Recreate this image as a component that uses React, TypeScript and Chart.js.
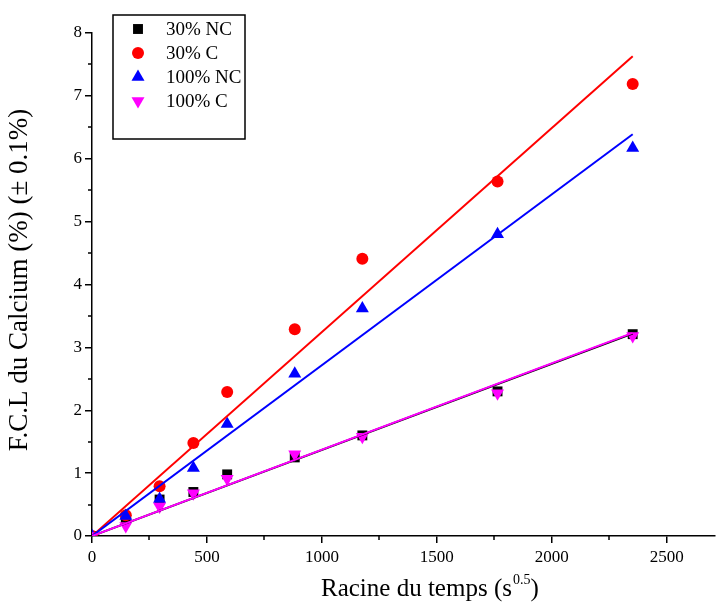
import React, { useEffect, useRef } from "react";
import { Chart, registerables } from "chart.js";

Chart.register(...registerables);

const xValues = [0, 147, 294, 441, 588, 882, 1176, 1764, 2352];
const nc30 = [0, 0.28, 0.58, 0.70, 0.98, 1.25, 1.60, 2.30, 3.21];
const c30 = [0, 0.33, 0.79, 1.48, 2.29, 3.29, 4.41, 5.64, 7.19];
const nc100 = [0, 0.32, 0.59, 1.08, 1.78, 2.58, 3.62, 4.80, 6.17];
const c100 = [0, 0.16, 0.47, 0.68, 0.91, 1.30, 1.58, 2.27, 3.18];

const fitX = [0, 2352];
const fitNc30 = [0, 3.22];
const fitC30 = [0, 7.63];
const fitNc100 = [0, 6.39];
const fitC100 = [0, 3.23];

const seriesLabels = ["30% NC", "30% C", "100% NC", "100% C"];
const xTicks = [0, 500, 1000, 1500, 2000, 2500];
const yTicks = [0, 1, 2, 3, 4, 5, 6, 7, 8];

const FONT = "'Liberation Serif', 'Times New Roman', serif";

function pts(xs: number[], ys: number[]) {
  return xs.map((x, i) => ({ x, y: ys[i] }));
}

function drawMarker(ctx: CanvasRenderingContext2D, style: string, x: number, y: number, r: number, rot: number, color: string) {
  ctx.save();
  ctx.fillStyle = color;
  ctx.beginPath();
  if (style === "rect") {
    const s = Math.SQRT1_2 * r;
    ctx.rect(x - s, y - s, 2 * s, 2 * s);
  } else if (style === "circle") {
    ctx.arc(x, y, r, 0, Math.PI * 2);
  } else {
    let a = (rot * Math.PI) / 180;
    ctx.moveTo(x + Math.sin(a) * r, y - Math.cos(a) * r);
    a += (2 * Math.PI) / 3;
    ctx.lineTo(x + Math.sin(a) * r, y - Math.cos(a) * r);
    a += (2 * Math.PI) / 3;
    ctx.lineTo(x + Math.sin(a) * r, y - Math.cos(a) * r);
    ctx.closePath();
  }
  ctx.fill();
  ctx.restore();
}

const decorPlugin = {
  id: "decor",
  afterDraw(chart: any) {
    const ctx = chart.ctx as CanvasRenderingContext2D;
    const area = chart.chartArea;
    const xs = chart.scales.x;
    const ys = chart.scales.y;
    ctx.save();
    // minor ticks
    ctx.strokeStyle = "#000";
    ctx.lineWidth = 1.5;
    ctx.beginPath();
    for (let v = 250; v <= xs.max; v += 500) {
      const px = Math.round(xs.getPixelForValue(v));
      ctx.moveTo(px, area.bottom);
      ctx.lineTo(px, area.bottom + 4);
    }
    for (let v = 0.5; v <= ys.max; v += 1) {
      const py = Math.round(ys.getPixelForValue(v));
      ctx.moveTo(area.left, py);
      ctx.lineTo(area.left - 4, py);
    }
    ctx.stroke();

    // axis titles
    ctx.fillStyle = "#000";
    ctx.textBaseline = "alphabetic";
    ctx.textAlign = "left";
    ctx.font = `25px ${FONT}`;
    const main = "Racine du temps (s";
    const tx = area.left + 229;
    const ty = area.bottom + 60;
    ctx.fillText(main, tx, ty);
    const w1 = ctx.measureText(main).width;
    ctx.font = `14px ${FONT}`;
    ctx.fillText("0.5", tx + w1 + 1, ty - 12);
    const w2 = ctx.measureText("0.5").width;
    ctx.font = `25px ${FONT}`;
    ctx.fillText(")", tx + w1 + w2 + 1, ty);

    ctx.save();
    ctx.translate(20, 280);
    ctx.rotate(-Math.PI / 2);
    ctx.textAlign = "center";
    ctx.textBaseline = "middle";
    ctx.font = `27px ${FONT}`;
    ctx.fillText("F.C.L du Calcium (%) (\u00B1 0.1%)", 0, 0);
    ctx.restore();

    // legend
    const bx = area.left + 21;
    const by = area.top - 18;
    ctx.lineWidth = 1.5;
    ctx.strokeStyle = "#000";
    ctx.fillStyle = "#fff";
    ctx.fillRect(bx, by, 132, 124);
    ctx.strokeRect(bx, by, 132, 124);
    ctx.font = `19px ${FONT}`;
    ctx.textAlign = "left";
    ctx.textBaseline = "middle";
    for (let i = 0; i < 4; i++) {
      const ds = chart.data.datasets[i];
      const cy = by + 14 + i * 24;
      drawMarker(ctx, ds.pointStyle, bx + 25, cy, ds.pointRadius, ds.rotation || 0, ds.backgroundColor);
      ctx.fillStyle = "#000";
      ctx.fillText(ds.label, bx + 53, cy + 1);
    }
    ctx.restore();
  },
};

export default function App() {
  const ref = useRef<HTMLCanvasElement | null>(null);

  useEffect(() => {
    if (!ref.current) return;
    const pointBase = { showLine: false, borderWidth: 0, clip: 0 as any };
    const lineBase = { showLine: true, pointRadius: 0, borderWidth: 2, fill: false, clip: 0 as any };
    const chart = new Chart(ref.current, {
      type: "scatter",
      data: {
        datasets: [
          { ...pointBase, label: seriesLabels[0], data: pts(xValues, nc30), pointStyle: "rect", pointRadius: 7, backgroundColor: "#000000", borderColor: "#000000", order: 8 } as any,
          { ...pointBase, label: seriesLabels[1], data: pts(xValues, c30), pointStyle: "circle", pointRadius: 6, backgroundColor: "#ff0000", borderColor: "#ff0000", order: 7 } as any,
          { ...pointBase, label: seriesLabels[2], data: pts(xValues, nc100), pointStyle: "triangle", pointRadius: 7.5, backgroundColor: "#0000ff", borderColor: "#0000ff", order: 6 } as any,
          { ...pointBase, label: seriesLabels[3], data: pts(xValues, c100), pointStyle: "triangle", rotation: 180, pointRotation: 180, pointRadius: 7.5, backgroundColor: "#ff00ff", borderColor: "#ff00ff", order: 5 } as any,
          { ...lineBase, label: "fit1", data: pts(fitX, fitNc30), borderColor: "#000000", order: 4 } as any,
          { ...lineBase, label: "fit2", data: pts(fitX, fitC30), borderColor: "#ff0000", order: 3 } as any,
          { ...lineBase, label: "fit3", data: pts(fitX, fitNc100), borderColor: "#0000ff", order: 2 } as any,
          { ...lineBase, label: "fit4", data: pts(fitX, fitC100), borderColor: "#ff00ff", order: 1 } as any,
        ],
      },
      options: {
        responsive: false,
        animation: false,
        devicePixelRatio: 1,
        layout: { autoPadding: false, padding: { top: 33, right: 2, bottom: 0, left: 0 } },
        plugins: { legend: { display: false }, tooltip: { enabled: false } },
        scales: {
          x: {
            type: "linear",
            min: 0,
            max: 2710,
            afterFit: (s: any) => { s.height = 72; s.paddingRight = 0; s.paddingLeft = 0; },
            afterBuildTicks: (s: any) => { s.ticks = xTicks.map((v) => ({ value: v })); },
            ticks: { color: "#000", font: { family: FONT, size: 17 }, padding: 4, maxRotation: 0, autoSkip: false, callback: (v: any) => String(v) },
            grid: { drawOnChartArea: false, drawTicks: true, tickLength: 7, color: "#000", lineWidth: 1.5 },
            border: { display: true, color: "#000", width: 1.5 },
          },
          y: {
            type: "linear",
            min: 0,
            max: 8,
            afterFit: (s: any) => { s.width = 92; s.paddingTop = 0; s.paddingBottom = 0; },
            afterBuildTicks: (s: any) => { s.ticks = yTicks.map((v) => ({ value: v })); },
            ticks: { color: "#000", font: { family: FONT, size: 17 }, padding: 3, autoSkip: false, callback: (v: any) => String(v) },
            grid: { drawOnChartArea: false, drawTicks: true, tickLength: 7, color: "#000", lineWidth: 1.5 },
            border: { display: true, color: "#000", width: 1.5 },
          },
        },
      },
      plugins: [decorPlugin],
    });
    return () => chart.destroy();
  }, []);

  return (
    <div style={{ position: "fixed", left: 0, top: 0, width: 717, height: 608, background: "#fff" }}>
      <canvas ref={ref} width={717} height={608} style={{ display: "block", width: 717, height: 608 }} />
    </div>
  );
}
